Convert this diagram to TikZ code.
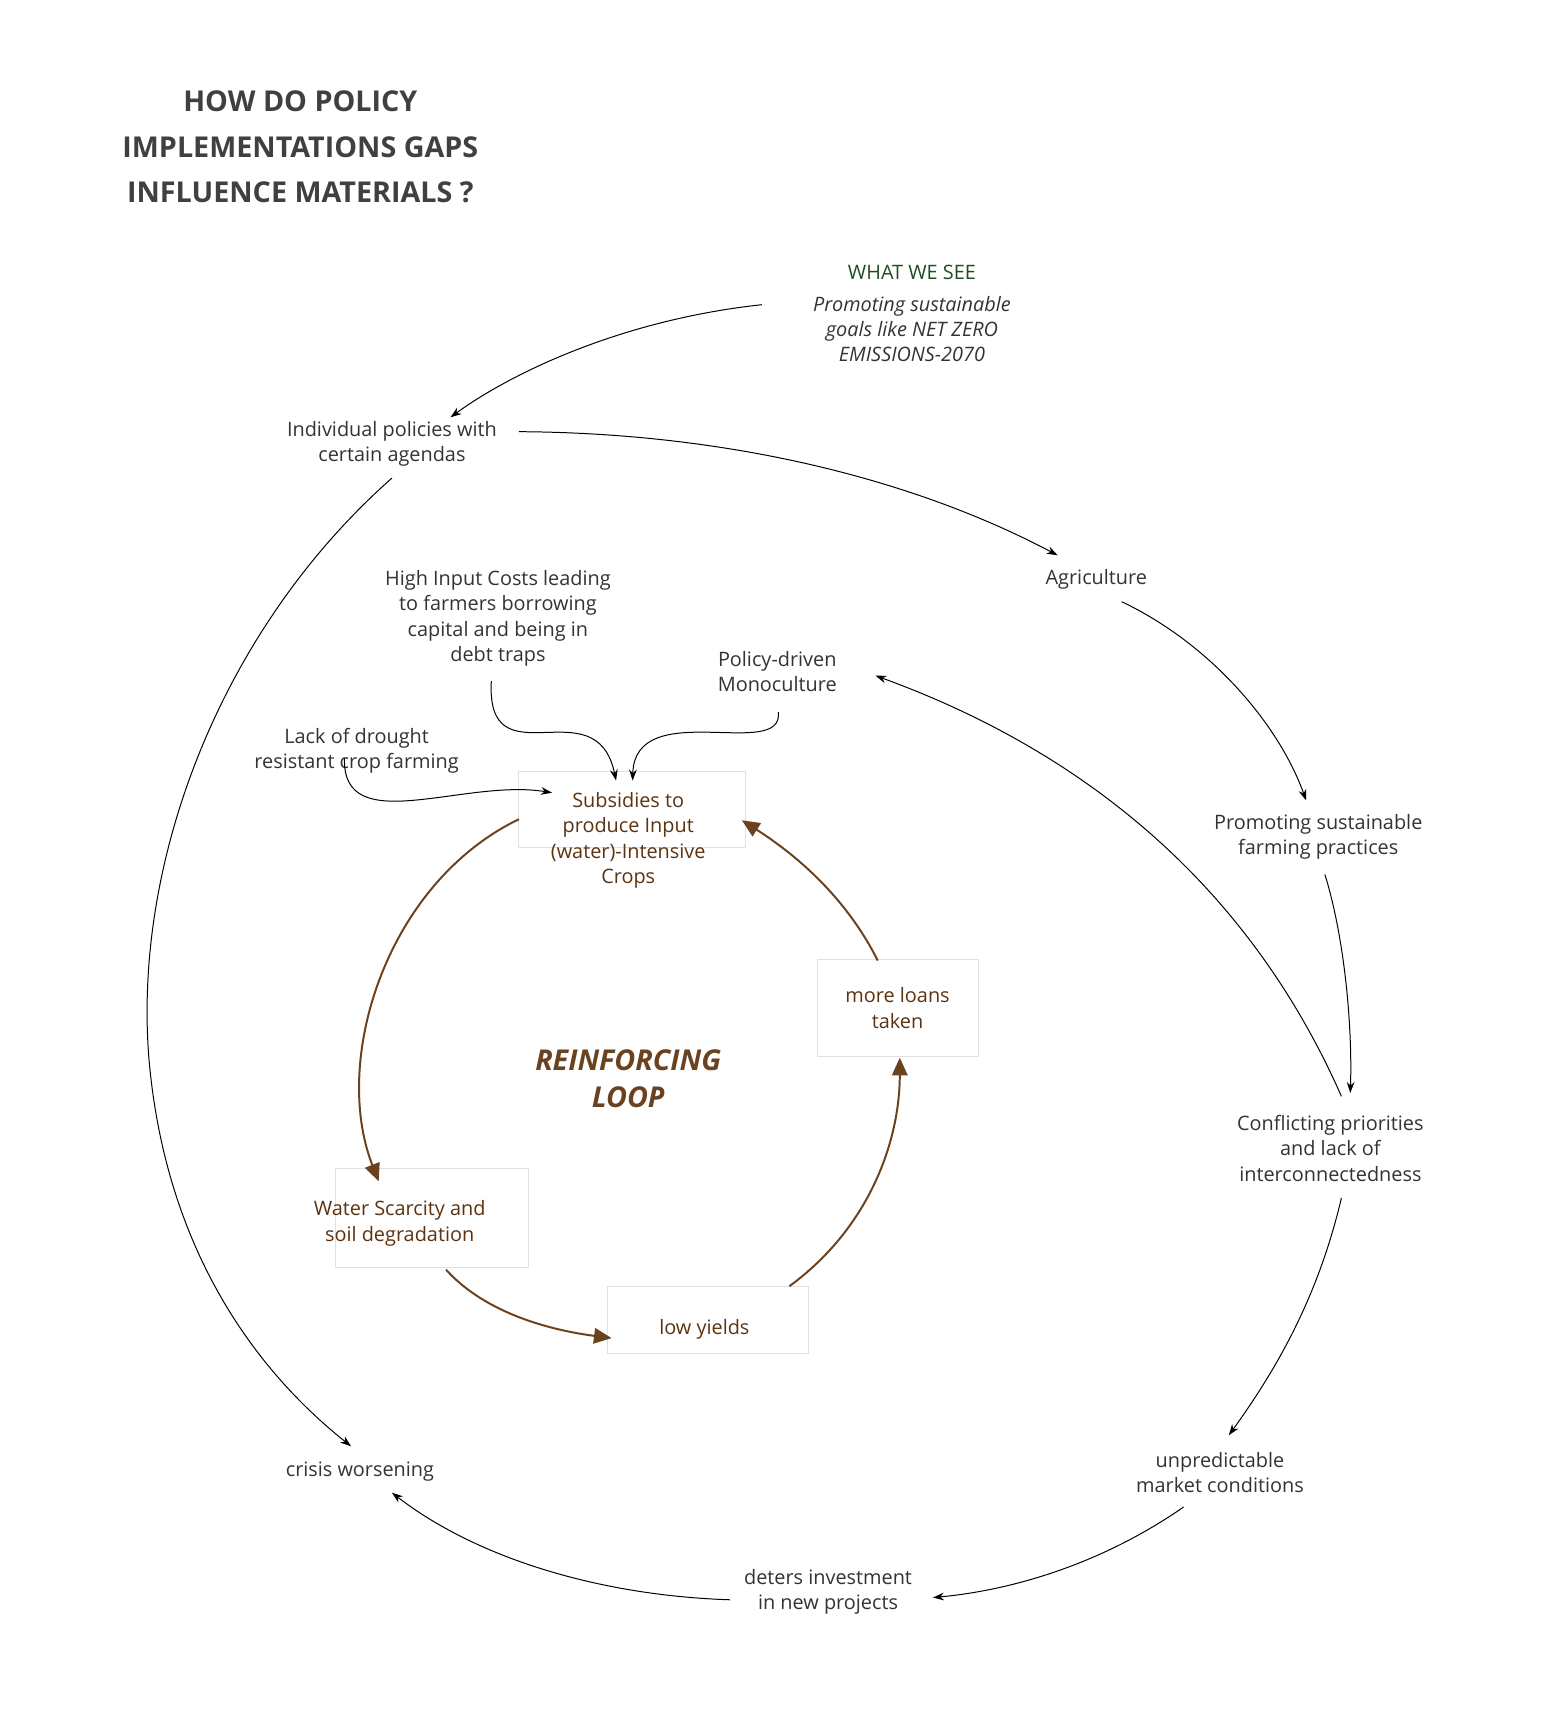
\documentclass[tikz,border=0pt]{standalone}
\usepackage{fontspec}
\setmainfont{Open Sans}
\usetikzlibrary{arrows.meta}
\definecolor{brn}{HTML}{5C3310}
\definecolor{brnl}{HTML}{6B4220}
\definecolor{grn}{HTML}{1F4D1F}
\definecolor{txt}{HTML}{333333}
\begin{document}
\begin{tikzpicture}[x=0.5pt,y=-0.5pt,
 lbl/.style={align=center,font=\fontsize{9}{11.5}\selectfont,text=txt},
 blbl/.style={align=center,font=\fontsize{9}{11.5}\selectfont,text=brn},
 bx/.style={draw=black!12,line width=0.4pt},
 ar/.style={-{Stealth[length=5pt,width=3.5pt]},line width=0.45pt},
 br/.style={-{Triangle[length=8pt,width=7pt]},line width=0.9pt,draw=brnl,color=brnl}]
\useasboundingbox (0,0) rectangle (1410,1557);
\node[align=center,font=\fontsize{13}{20.5}\selectfont\bfseries,text=black!75] (title) at (272,133) {HOW DO POLICY\\IMPLEMENTATIONS GAPS\\INFLUENCE MATERIALS ?};
\node[font=\fontsize{9}{11}\selectfont,text=grn] (wws) at (826,247) {WHAT WE SEE};
\node[align=center,font=\fontsize{9}{11.5}\selectfont\itshape,text=txt] (prom) at (826,298) {Promoting sustainable\\goals like NET ZERO\\EMISSIONS-2070};
\node[lbl] (indiv) at (355,402) {Individual policies with\\certain agendas};
\node[lbl] (agri) at (993,525) {Agriculture};
\node[lbl] (promo) at (1194,758) {Promoting sustainable\\farming practices};
\node[lbl] (confl) at (1205,1040) {Conflicting priorities\\and lack of\\interconnectedness};
\node[lbl] (unpred) at (1105,1334) {unpredictable\\market conditions};
\node[lbl] (deters) at (750,1442) {deters investment\\in new projects};
\node[lbl] (crisis) at (326,1333) {crisis worsening};
\node[lbl] (high) at (451,560) {High Input Costs leading\\to farmers borrowing\\capital and being in\\debt traps};
\node[lbl] (mono) at (704,608) {Policy-driven\\Monoculture};
\node[lbl] (lack) at (323,680) {Lack of drought\\resistant crop farming};
\draw[bx] (470,699) rectangle (675,768);
\node[blbl] (subs) at (569,761) {Subsidies to\\produce Input\\(water)-Intensive\\Crops};
\draw[bx] (740,869) rectangle (886,957);
\node[blbl] (loans) at (813,913) {more loans\\taken};
\draw[bx] (304,1058) rectangle (479,1148);
\node[blbl] (water) at (362,1108) {Water Scarcity and\\soil degradation};
\draw[bx] (550,1165) rectangle (732,1226);
\node[blbl] (low) at (638,1204) {low yields};
\node[align=center,font=\fontsize{13}{16.5}\selectfont\bfseries\itshape,text=brnl] (loop) at (569,977) {REINFORCING\\LOOP};
% coordinates
\coordinate (a1) at (690,276); \coordinate (a2) at (408,378);
\coordinate (b1) at (470,391); \coordinate (b2) at (958,503);
\coordinate (c1) at (1016,545); \coordinate (c2) at (1183,725);
\coordinate (d1) at (1200,792); \coordinate (d2) at (1223,990);
\coordinate (e1) at (1215,1085); \coordinate (e2) at (1113,1300);
\coordinate (f1) at (1072,1365); \coordinate (f2) at (845,1447);
\coordinate (g1) at (661,1449); \coordinate (g2) at (355,1352);
\coordinate (h1) at (355,433); \coordinate (h2) at (318,1310);
\coordinate (i1) at (1215,993); \coordinate (i2) at (793,612);
\coordinate (j1) at (445,617); \coordinate (j2) at (558,707);
\coordinate (k1) at (705,645); \coordinate (k2) at (573,707);
\coordinate (l1) at (312,687); \coordinate (l2) at (500,718);
\draw[ar] (a1) .. controls (560,290) and (460,340) .. (a2);
\draw[ar] (b1) .. controls (650,392) and (820,430) .. (b2);
\draw[ar] (c1) .. controls (1100,585) and (1160,660) .. (c2);
\draw[ar] (d1) .. controls (1218,850) and (1225,930) .. (d2);
\draw[ar] (e1) .. controls (1195,1170) and (1160,1235) .. (e2);
\draw[ar] (f1) .. controls (1000,1415) and (920,1440) .. (f2);
\draw[ar] (g1) .. controls (540,1445) and (430,1410) .. (g2);
\draw[ar] (h1) .. controls (200,570) and (120,780) .. (135,960) .. controls (150,1130) and (230,1240) .. (h2);
\draw[ar] (i1) .. controls (1130,800) and (980,680) .. (i2);
\draw[ar] (j1) .. controls (440,710) and (540,620) .. (j2);
\draw[ar] (k1) .. controls (710,690) and (575,630) .. (k2);
\draw[ar] (l1) .. controls (310,760) and (420,705) .. (l2);
\draw[br] (470,742) .. controls (350,800) and (300,960) .. (343,1070);
\draw[br] (404,1150) .. controls (440,1190) and (500,1205) .. (554,1212);
\draw[br] (715,1165) .. controls (790,1110) and (815,1030) .. (815,958);
\draw[br] (795,870) .. controls (770,820) and (730,780) .. (672,743);
\end{tikzpicture}
\end{document}
